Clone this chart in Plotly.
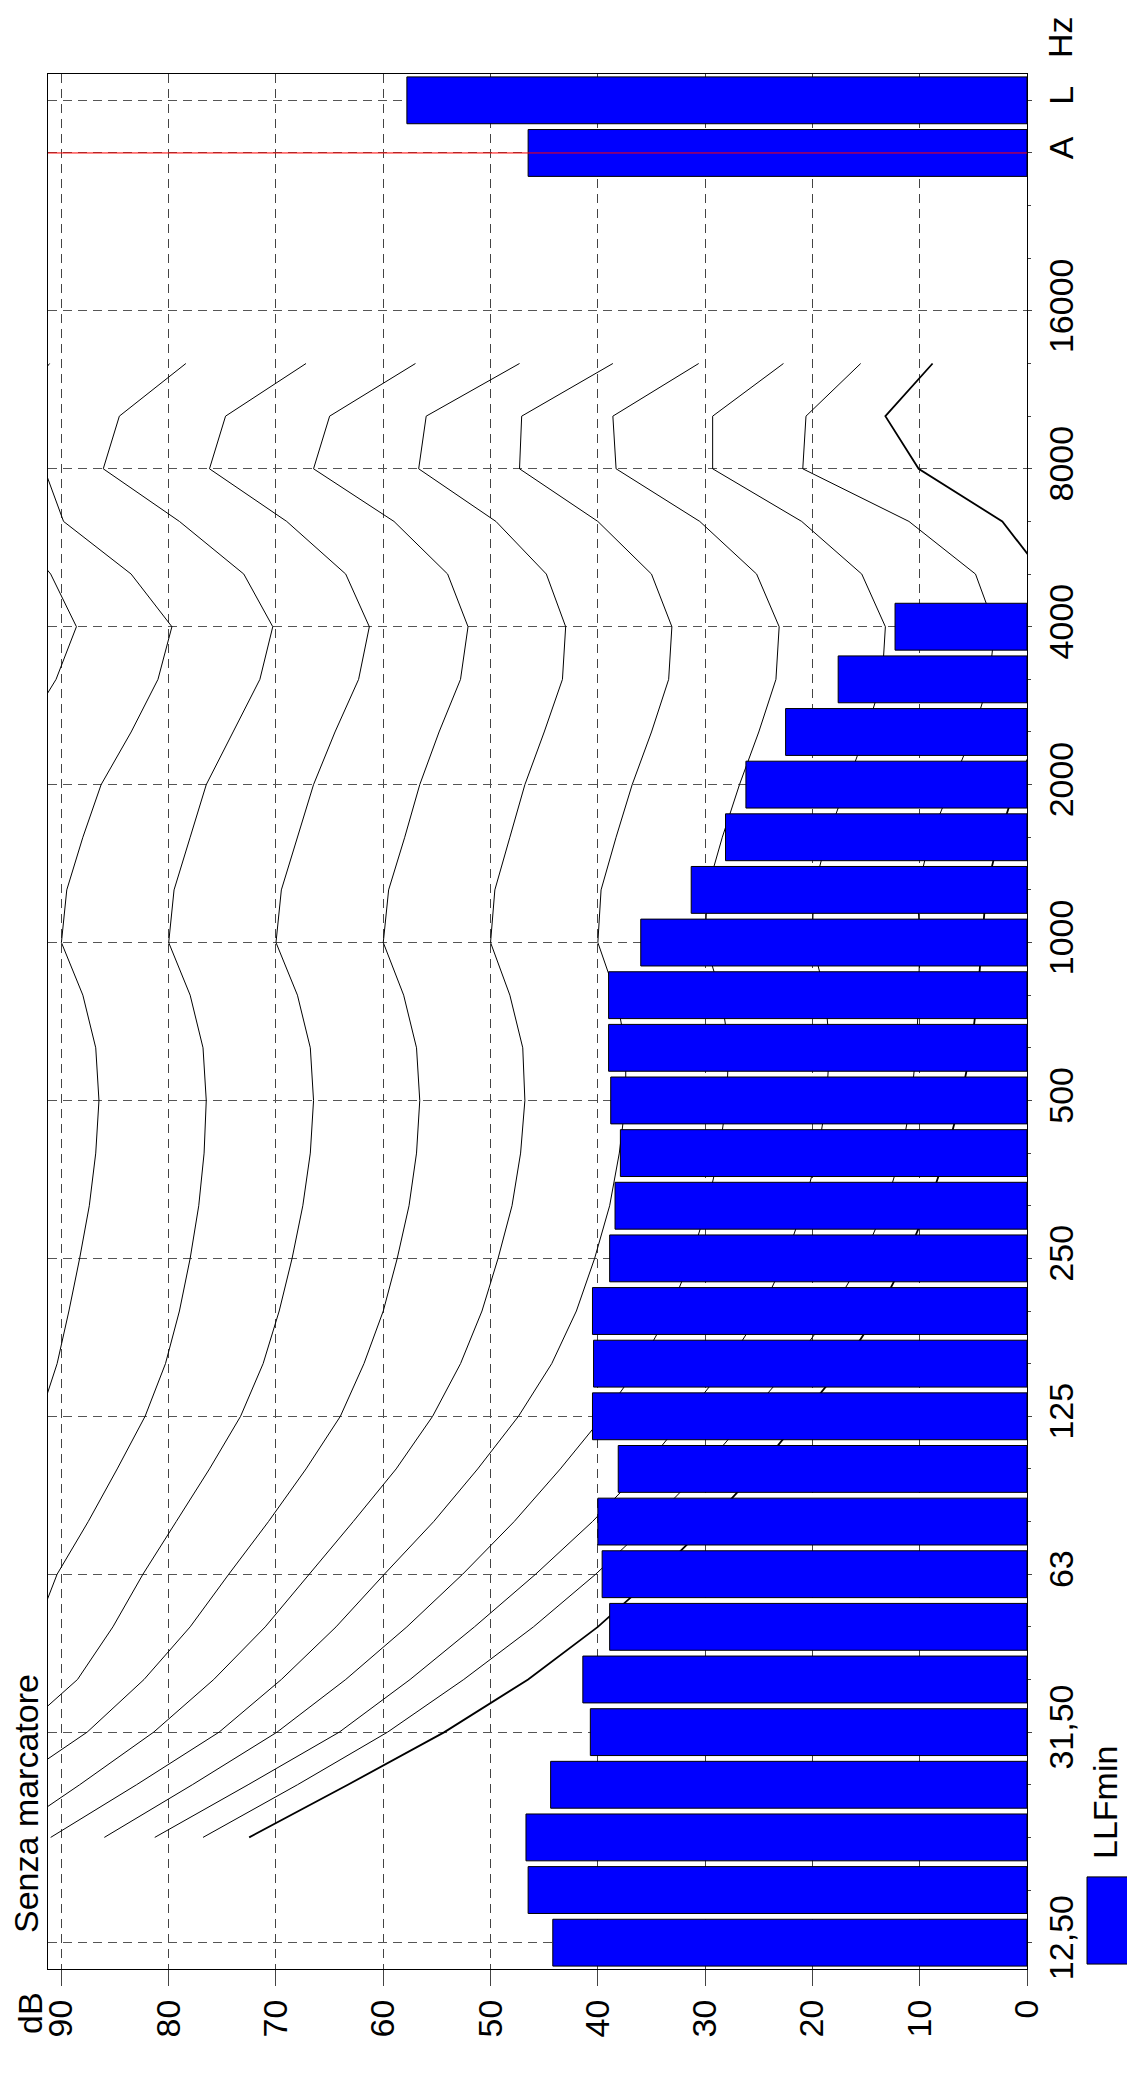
import plotly.graph_objects as go

# ---------------- data ----------------
bands = ["12,50", "16", "20", "25", "31,50", "40", "50", "63", "80", "100", "125", "160",
         "200", "250", "315", "400", "500", "630", "800", "1000", "1250", "1600", "2000",
         "2500", "3150", "4000", "5000", "6300", "8000", "10000", "12500", "16000", "20000",
         "", "A", "L"]

llf_min = [44.2, 46.5, 46.7, 44.4, 40.7, 41.4, 38.9, 39.6, 40.0, 38.1, 40.5, 40.4, 40.5,
           38.9, 38.4, 37.9, 38.8, 39.0, 39.0, 36.0, 31.3, 28.1, 26.2, 22.5, 17.6, 12.3,
           None, None, None, None, None, None, None, None, 46.5, 57.8]

tick_labels = ["12,50", "31,50", "63", "125", "250", "500", "1000", "2000", "4000",
               "8000", "16000", "A", "L"]

db_ticks = [0, 10, 20, 30, 40, 50, 60, 70, 80, 90]

contour_freqs = ["20", "25", "31,50", "40", "50", "63", "80", "100", "125", "160", "200",
                 "250", "315", "400", "500", "630", "800", "1000", "1250", "1600", "2000",
                 "2500", "3150", "4000", "5000", "6300", "8000", "10000", "12500"]

c100 = [122, 120, 118, 116, 114, 112, 110, 108.5, 107, 105.5, 104, 102.5, 101, 99.5, 98.5,
        98, 98.5, 100, 99.5, 98, 96.5, 93.5, 90.5, 88.6, 91, 95, 100, 104, 103]
c90 = [116, 112, 108, 104.5, 101, 98, 95.8, 93.8, 92.0, 90.4, 89.3, 88.3, 87.4, 86.8, 86.5,
       86.8, 88, 90, 89.5, 88, 86.3, 83.5, 81, 79.7, 83.5, 89.8, 91.6, 95, 91.1]
c80 = [110, 105, 100, 96, 92.3, 90.4, 87.5, 84.8, 82.2, 80.3, 79, 78, 77.2, 76.7, 76.5,
       76.8, 78, 80, 79.5, 78, 76.5, 74, 71.5, 70.3, 73, 79, 86.1, 84.6, 78.4]
c70 = [105, 100, 94.0, 88.5, 85.2, 82.4, 79.3, 76.2, 73.3, 71.2, 69.7, 68.5, 67.5, 66.8,
       66.5, 66.8, 68, 70, 69.5, 68, 66.5, 64.5, 62.3, 61.3, 63.5, 69, 76.2, 74.7, 67.2]
c60 = [100, 94.8, 87.6, 82.3, 78.0, 74.4, 70.7, 67.2, 64.0, 61.8, 60.0, 58.7, 57.6, 56.9,
       56.6, 56.9, 58.1, 60, 59.5, 58, 56.6, 54.8, 52.8, 52.1, 54, 59, 66.5, 65, 57.0]
c50 = [95.5, 88.3, 81.4, 75.8, 71.0, 66.9, 62.8, 58.8, 55.4, 52.8, 50.8, 49.3, 48.0, 47.2,
       46.8, 47.0, 48.2, 50, 49.6, 48.2, 46.8, 45.0, 43.3, 43.0, 44.8, 49.5, 56.7, 56, 47.3]
c40 = [91.0, 83.0, 75.3, 69.5, 64.4, 59.9, 55.3, 51.2, 47.4, 44.3, 42.0, 40.3, 38.9, 38.0,
       37.4, 37.4, 38.3, 40, 39.7, 38.3, 36.8, 35, 33.4, 33.1, 35, 40, 47.3, 47.1, 38.6]
c30 = [86.0, 77.8, 69.9, 63.5, 57.8, 52.6, 47.8, 43.5, 39.5, 36.0, 33.3, 31.3, 29.8, 28.7,
       28.0, 27.8, 28.5, 30, 29.8, 28.4, 26.8, 25, 23.4, 23.1, 25.2, 30.5, 38.3, 38.6, 30.6]
c20 = [81.3, 72.6, 64.1, 57.5, 51.5, 45.8, 40.5, 35.8, 31.8, 27.9, 24.8, 22.5, 20.8, 19.5,
       18.7, 18.4, 18.8, 20, 19.9, 18.6, 16.8, 15, 13.5, 13.2, 15.4, 21, 29.3, 29.3, 22.7]
c10 = [76.8, 68.0, 59.6, 52.5, 46.0, 40.2, 35.0, 30.2, 26.0, 21.8, 18.2, 15.3, 13.2, 11.7,
       10.8, 10.3, 10.1, 10, 10.2, 9.0, 7.0, 5.0, 3.5, 3.0, 4.8, 11, 20.9, 20.6, 15.5]
c_thr = [72.5, 63.3, 54.3, 46.5, 40.0, 34.5, 29.5, 25.0, 21.0, 17.0, 13.8, 11.3, 9.2, 7.5,
         6.2, 5.2, 4.6, 4.2, 3.8, 2.6, 1.0, -1.2, -3.4, -4.0, -1.5, 2.3, 10.1, 13.2, 8.8]

contours = [c100, c90, c80, c70, c60, c50, c40, c30, c20, c10]
threshold = c_thr

# ---------------- figure ----------------
pos = list(range(len(bands)))
cpos = [bands.index(f) for f in contour_freqs]
tick_pos = [bands.index(t) for t in tick_labels]
X_RANGE = [91.25, 0]
Y_RANGE = [-0.5, len(bands) - 0.5]
FONT = "Liberation Sans, Arial, sans-serif"

fig = go.Figure()

for c in contours:
    fig.add_trace(go.Scatter(x=c, y=cpos, mode="lines", xaxis="x", yaxis="y",
                             line=dict(color="black", width=1), hoverinfo="skip"))
fig.add_trace(go.Scatter(x=threshold, y=cpos, mode="lines", xaxis="x", yaxis="y",
                         line=dict(color="black", width=1.8), hoverinfo="skip"))

fig.add_trace(go.Bar(x=llf_min, y=pos, orientation="h", xaxis="x2", yaxis="y2",
                     width=0.89, marker=dict(color="#0000FF",
                                             line=dict(color="black", width=1)),
                     name="LLFmin"))

grid_dash = "9px,6px"
fig.update_layout(
    width=1127, height=2089,
    margin=dict(l=48, r=100, t=74, b=120),
    paper_bgcolor="white", plot_bgcolor="white",
    showlegend=False,
    font=dict(family=FONT, size=34, color="black"),
    xaxis=dict(range=X_RANGE, tickvals=db_ticks, ticktext=[str(v) for v in db_ticks],
               tickangle=-90, ticks="outside", ticklen=16, tickcolor="#444",
               showgrid=True, gridcolor="#444", griddash=grid_dash, gridwidth=1,
               showline=True, linecolor="black", linewidth=1, mirror=True,
               zeroline=False, tickfont=dict(size=34)),
    yaxis=dict(range=Y_RANGE, tickvals=tick_pos, ticktext=tick_labels, side="right",
               tickangle=-90, ticks="outside", ticklen=4, tickcolor="#444",
               showgrid=True, gridcolor="#555", griddash=grid_dash, gridwidth=1,
               showline=True, linecolor="black", linewidth=1, mirror=True,
               zeroline=False, tickfont=dict(size=34),
               minor=dict(tickvals=pos, ticks="outside", ticklen=3, tickcolor="#444",
                          showgrid=False)),
    xaxis2=dict(range=X_RANGE, overlaying="x", visible=False),
    yaxis2=dict(range=Y_RANGE, overlaying="y", visible=False),
    bargap=0.11,
)

# red reference line at A
fig.add_shape(type="line", xref="paper", x0=0, x1=1, yref="y",
              y0=bands.index("A"), y1=bands.index("A"),
              line=dict(color="red", width=1), layer="above")

# legend (rotated, drawn manually)
fig.add_shape(type="rect", xref="paper", yref="paper", x0=1.0613, x1=1.103,
              y0=0.0026, y1=0.0486, fillcolor="#0000FF", line=dict(color="black", width=1))

annots = [
    dict(text="Senza marcatore", x=-0.0225, y=0.0876),
    dict(text="dB", x=-0.0184, y=-0.0232),
    dict(text="Hz", x=1.0337, y=1.0195),
    dict(text="LLFmin", x=1.0797, y=0.0876),
]
for a in annots:
    fig.add_annotation(text=a["text"], x=a["x"], y=a["y"], xref="paper", yref="paper",
                       textangle=-90, showarrow=False, xanchor="center", yanchor="middle",
                       font=dict(size=34, family=FONT, color="black"))

fig.write_html("out.html")
